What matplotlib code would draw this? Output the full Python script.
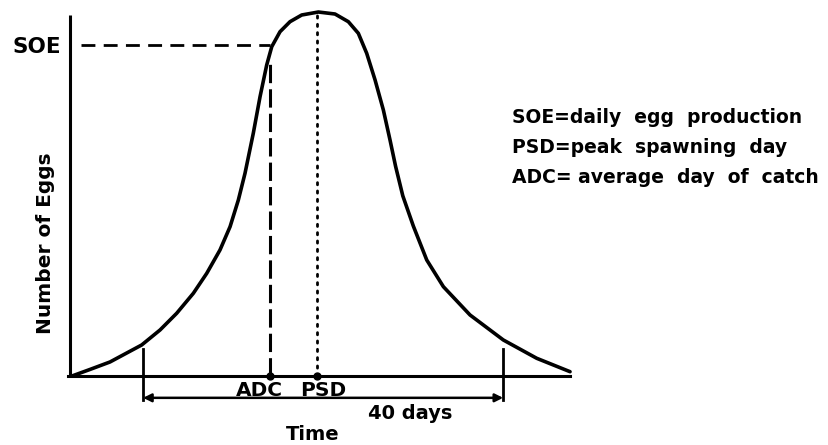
import matplotlib
matplotlib.use("Agg")
import matplotlib.pyplot as plt
import numpy as np

# egg production curve (day, relative number of eggs)
days = [0, 2.0, 4.22, 7.74, 9.78, 11.63, 13.48, 14.97, 16.44, 17.56, 18.48,
        19.22, 20.14, 20.89, 21.63, 22.19, 23.11, 24.22, 25.52, 27.37, 29.22,
        30.70, 31.81, 32.74, 33.67, 34.59, 35.33, 35.95, 36.75, 37.92, 39.41,
        41.26, 44.22, 47.92, 51.63, 55.33]
eggs = [0, 1.8, 3.85, 8.52, 12.64, 17.23, 22.72, 28.21, 34.62, 41.02, 48.35,
        55.69, 66.68, 76.73, 85.44, 90.47, 94.59, 97.34, 99.18, 100, 99.45,
        97.34, 94.15, 88.65, 81.32, 73.08, 64.84, 57.6, 49.5, 41.2, 31.87,
        24.53, 16.76, 9.89, 4.86, 1.18]

adc_day = 22.0
psd_day = 27.2
soe = 90.9
window = [7.9, 47.9]  # 40 days

legend_lines = ["SOE=daily  egg  production",
                "PSD=peak  spawning  day",
                "ADC= average  day  of  catch"]

fig = plt.figure(figsize=(8.29, 4.45), dpi=100)
ax = fig.add_axes([0, 0, 1, 1])
ax.set_xlim(-8.0, 84.1)
ax.set_ylim(-18.96, 103.3)
ax.axis("off")

font = dict(family="DejaVu Sans", weight="bold", color="black")

# axes lines
ax.plot([-0.2, -0.2], [0, 99.2], color="black", lw=2.2, solid_capstyle="butt")
ax.plot([-0.4, days[-1]], [0, 0], color="black", lw=2.2)

# curve
ax.plot(days, eggs, color="black", lw=2.6, solid_joinstyle="round",
        solid_capstyle="round")

# SOE / ADC / PSD markers
adc_top = np.interp(adc_day, days, eggs) - 3
ax.plot([1.0, adc_day], [soe, soe], color="black", lw=2, dashes=(5, 3))
ax.plot([adc_day, adc_day], [0, adc_top], color="black", lw=2.2, dashes=(6, 2))
ax.plot([psd_day, psd_day], [0, max(eggs)], color="black", lw=2, dashes=(0.8, 2.2),
        dash_capstyle="round")
ax.plot([adc_day, psd_day], [0, 0], "o", color="black", ms=5)

ax.text(-3.9, 90.4, "SOE", ha="center", va="center", fontsize=15.5, **font)
ax.text(20.8, -3.85, "ADC", ha="center", va="center", fontsize=14.5, **font)
ax.text(27.9, -3.85, "PSD", ha="center", va="center", fontsize=14.5, **font)

# 40 day window
for d in window:
    ax.plot([d, d], [7.4, -6.6], color="black", lw=2)
ax.annotate("", xy=(window[0], -6.0), xytext=(window[1], -6.0),
            arrowprops=dict(arrowstyle="<|-|>", color="black", lw=1.8,
                            mutation_scale=12, shrinkA=0, shrinkB=0))
ax.text(37.6, -10.2, "40 days", ha="center", va="center", fontsize=14, **font)

ax.text(26.7, -16.2, "Time", ha="center", va="center", fontsize=14, **font)
ax.text(-3.0, 36.5, "Number of Eggs", ha="center", va="center", rotation=90,
        fontsize=14.5, **font)

for i, line in enumerate(legend_lines):
    ax.text(48.9, 70.9 - i * 8.2, line, ha="left", va="center",
            fontsize=13.5, **font)

fig.savefig("out.png", dpi=100)
